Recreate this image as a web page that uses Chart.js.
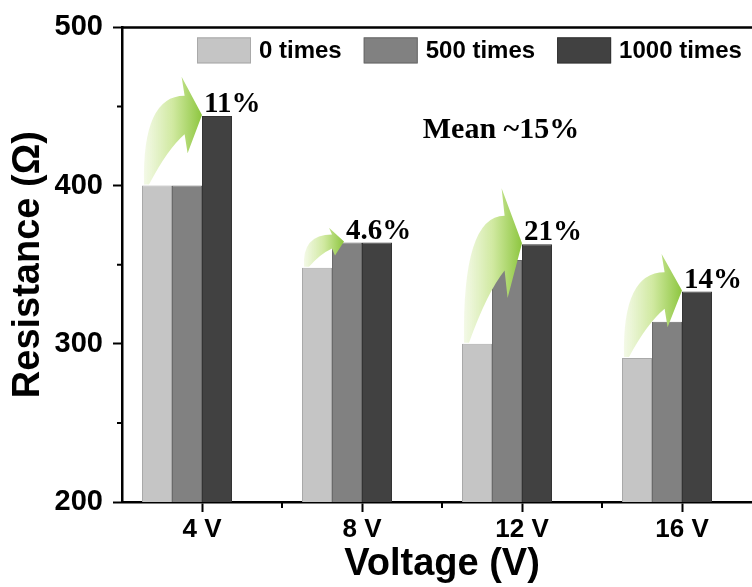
<!DOCTYPE html>
<html>
<head>
<meta charset="utf-8">
<script src="https://cdn.jsdelivr.net/npm/chart.js"></script>
<style>
  html, body { margin: 0; padding: 0; overflow: hidden; background: #fff; }
  #wrap { width: 780px; height: 587px; }
</style>
</head>
<body>
<div id="wrap"><canvas id="chart" width="780" height="587"></canvas></div>
<script>
// data
const voltages = ['4 V', '8 V', '12 V', '16 V'];
const times0 = [400, 348, 300, 291];
const times500 = [400, 364, 353, 314];
const times1000 = [444, 364, 363, 333];
const spacer = [null, null, null, null];   // empty slot so the groups sit left of the tick like the original
const increases = ['11%', '4.6%', '21%', '14%'];
const yTicks = [200, 300, 400, 500];
const meanNote = 'Mean ~15%';

const SANS = '"Liberation Sans", Arial, sans-serif';
const SERIF = '"Liberation Serif", "Times New Roman", serif';

// small ticks between the labelled ones + top/right frame
const axisExtras = {
  id: 'axisExtras',
  afterDraw(chart) {
    const { ctx, chartArea: a, scales: { x, y } } = chart;
    ctx.save();
    ctx.strokeStyle = '#000';
    ctx.lineWidth = 2;
    ctx.beginPath();
    for (let i = 0; i < yTicks.length - 1; i++) {
      const py = y.getPixelForValue((yTicks[i] + yTicks[i + 1]) / 2);
      ctx.moveTo(a.left - 5, py);
      ctx.lineTo(a.left, py);
    }
    for (let i = 0; i < voltages.length; i++) {
      const px = (x.getPixelForValue(i) + x.getPixelForValue(i + 1)) / 2;
      ctx.moveTo(px, a.bottom);
      ctx.lineTo(px, a.bottom + 6);
    }
    ctx.stroke();
    ctx.lineWidth = 2.5;
    ctx.beginPath();
    ctx.moveTo(a.left - 1, a.top);
    ctx.lineTo(a.right, a.top);
    ctx.lineTo(a.right, a.bottom);
    ctx.stroke();
    ctx.restore();
  }
};

function drawArrow(ctx, tx, ty, px, py) {
  const dx = px - tx, dy = ty - py;
  const hh = 0.55 * dy, hd = 0.3 * dx, sw = 0.5 * hh;
  const bx = px - hd;
  const g = ctx.createLinearGradient(tx, 0, px, 0);
  g.addColorStop(0, 'rgba(243,249,230,0.95)');
  g.addColorStop(0.5, '#d0e9a0');
  g.addColorStop(1, '#8dc63f');
  ctx.fillStyle = g;
  ctx.beginPath();
  ctx.moveTo(tx, ty);
  ctx.quadraticCurveTo(tx - 2, py - sw, bx, py - sw);
  ctx.lineTo(bx - 3, py - hh);
  ctx.lineTo(px, py);
  ctx.lineTo(bx + 3, py + hh);
  ctx.lineTo(bx, py + sw);
  ctx.quadraticCurveTo(tx + dx * 0.4, py + sw + (ty - py - sw) * 0.3, tx + 5, ty);
  ctx.closePath();
  ctx.fill();
}

// green arrows, percentages and the mean note
const arrows = {
  id: 'arrows',
  afterDatasetsDraw(chart) {
    const { ctx, chartArea: a, scales: { y } } = chart;
    const m0 = chart.getDatasetMeta(0).data;
    const m1 = chart.getDatasetMeta(1).data;
    const m2 = chart.getDatasetMeta(2).data;
    ctx.save();
    voltages.forEach((v, i) => {
      const b0 = m0[i];
      const tx = b0.x - b0.width / 2 + 2, ty = b0.y - 1;
      const top = Math.min(m1[i].y, m2[i].y);
      let px;
      if (times500[i] >= times1000[i]) px = m1[i].x - 3;
      else px = m2[i].x - m2[i].width / 2;
      const py = top - 1;
      drawArrow(ctx, tx, ty, px, py);
      ctx.fillStyle = '#000';
      ctx.font = 'bold 29px ' + SERIF;
      ctx.textAlign = 'left';
      ctx.textBaseline = 'alphabetic';
      ctx.fillText(increases[i], px + 2, top - 4);
    });
    ctx.font = 'bold 30px ' + SERIF;
    ctx.fillText(meanNote, a.left + 0.47 * (a.right - a.left), y.getPixelForValue(430));
    ctx.restore();
  }
};

// legend drawn inside the plot, along the top
const insideLegend = {
  id: 'insideLegend',
  afterDraw(chart) {
    const { ctx, chartArea: a } = chart;
    ctx.save();
    ctx.font = 'bold 24px ' + SANS;
    ctx.textBaseline = 'middle';
    ctx.textAlign = 'left';
    let x = a.left + 75;
    const y = a.top + 10;
    chart.data.datasets.forEach(ds => {
      if (!ds.label) return;
      ctx.fillStyle = ds.backgroundColor;
      ctx.fillRect(x, y, 54, 26);
      ctx.strokeStyle = ds.borderColor;
      ctx.lineWidth = 1;
      ctx.strokeRect(x + 0.5, y + 0.5, 53, 25);
      ctx.fillStyle = '#000';
      ctx.fillText(ds.label, x + 62, y + 14);
      x += 62 + ctx.measureText(ds.label).width + 22;
    });
    ctx.restore();
  }
};

new Chart(document.getElementById('chart'), {
  type: 'bar',
  data: {
    labels: voltages,
    datasets: [
      { label: '0 times', data: times0, backgroundColor: '#c5c5c5', borderColor: '#a9a9a9', borderWidth: 1 },
      { label: '500 times', data: times500, backgroundColor: '#818181', borderColor: '#6a6a6a', borderWidth: 1 },
      { label: '1000 times', data: times1000, backgroundColor: '#414141', borderColor: '#333333', borderWidth: 1 },
      { label: '', data: spacer, backgroundColor: 'rgba(0,0,0,0)' }
    ]
  },
  options: {
    responsive: false,
    animation: false,
    layout: { padding: { top: 27, right: 18, bottom: 0, left: 0 } },
    categoryPercentage: 0.75,
    barPercentage: 1,
    plugins: {
      legend: { display: false },
      tooltip: { enabled: false }
    },
    scales: {
      x: {
        z: 1,
        grid: { offset: false, drawOnChartArea: false, drawTicks: true, tickLength: 10, tickWidth: 2, tickColor: '#000' },
        border: { display: true, color: '#000', width: 2.5 },
        ticks: { color: '#000', font: { family: SANS, size: 26, weight: 'bold' }, padding: 2 },
        title: { display: true, text: 'Voltage (V)', color: '#000', font: { family: SANS, size: 38, weight: 'bold' }, padding: { top: 0, bottom: 0 } },
        afterFit(scale) { scale.height = 85; }
      },
      y: {
        min: 200,
        max: 500,
        z: 1,
        grid: { drawOnChartArea: false, drawTicks: true, tickLength: 9, tickWidth: 2, tickColor: '#000' },
        border: { display: true, color: '#000', width: 2.5 },
        ticks: { stepSize: 100, color: '#000', font: { family: SANS, size: 29, weight: 'bold' }, padding: 10 },
        title: { display: true, text: 'Resistance (Ω)', color: '#000', font: { family: SANS, size: 38, weight: 'bold' }, padding: { top: 6, bottom: 0 } },
        afterFit(scale) { scale.width = 122; }
      }
    }
  },
  plugins: [axisExtras, arrows, insideLegend]
});
</script>
</body>
</html>
